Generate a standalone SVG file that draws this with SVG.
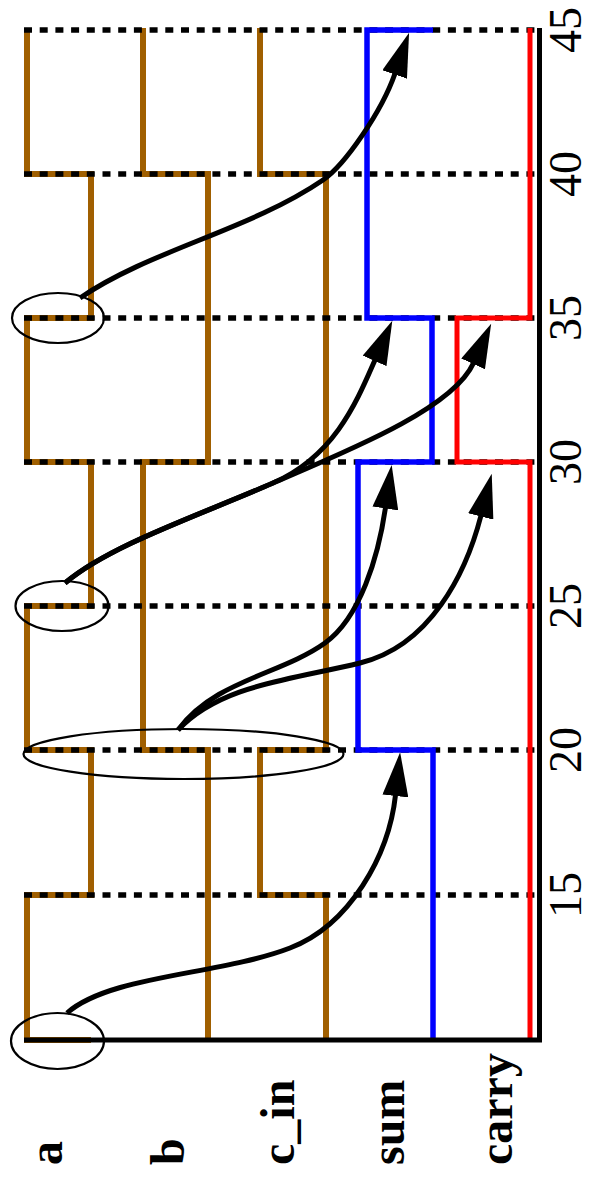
<svg xmlns="http://www.w3.org/2000/svg" width="589" height="1183" viewBox="0 0 589 1183">
<style>
.sig{fill:none;stroke-linejoin:miter;stroke-linecap:butt}
.in{stroke:#a05f00;stroke-width:6}
.sum{stroke:#0000ff;stroke-width:5.5}
.carry{stroke:#ff0000;stroke-width:5}
.grid{stroke:#000;stroke-width:5.5;stroke-dasharray:8 7.7;fill:none}
.axis{stroke:#000;stroke-width:5;fill:none}
.ell{fill:none;stroke:#000;stroke-width:2.2}
.arr{fill:none;stroke:#000;stroke-width:5;marker-end:url(#ah)}
.lbl{font-family:"Liberation Serif",serif;font-weight:bold;font-size:48px;fill:#000}
.num{font-family:"Liberation Serif",serif;font-size:46px;fill:#000;text-anchor:middle}
</style>
<defs>
<marker id="ah" markerUnits="userSpaceOnUse" markerWidth="44" markerHeight="26" refX="1" refY="13" orient="auto" viewBox="0 0 44 26">
<path d="M0,0 L44,13 L0,26 z" fill="#000"/>
</marker>
</defs>
<rect width="589" height="1183" fill="#fff"/>
<g id="sig-a"><path class="sig in" d="M91,1040 L27,1040 L27,895 L91,895 L91,750 L27,750 L27,606 L91,606 L91,462 L27,462 L27,318 L91,318 L91,174 L27,174 L27,28"/></g>
<g id="sig-b"><path class="sig in" d="M208,1040 L208,750 L143,750 L143,462 L208,462 L208,174 L143,174 L143,28"/></g>
<g id="sig-cin"><path class="sig in" d="M326,1040 L326,895 L260,895 L260,750 L326,750 L326,174 L260,174 L260,28"/></g>
<g id="grid">
<path class="grid" d="M24,30 H537 M24,174 H537 M24,318 H537 M24,462 H537 M24,606 H537 M24,750 H537 M24,895 H537"/>
</g>
<g id="sig-sum"><path class="sig sum" d="M433,1040 L433,750 L358,750 L358,462 L432,462 L432,318 L367,318 L367,30 L433,30"/></g>
<g id="sig-carry"><path class="sig carry" d="M530,1040 L530,462 L457,462 L457,318 L530,318 L530,28"/></g>
<g id="axis"><path class="axis" d="M539.5,28 L539.5,1042.5 M24,1040 L542,1040"/></g>
<g id="circles">
<ellipse class="ell" cx="57.5" cy="1041" rx="46.5" ry="28"/>
<ellipse class="ell" cx="62" cy="606" rx="46.5" ry="25"/>
<ellipse class="ell" cx="58" cy="318" rx="46" ry="25"/>
<ellipse class="ell" cx="183.5" cy="754" rx="160" ry="25"/>
</g>
<g id="connectors">
<path class="arr" d="M67,1013 C110,975 220,975 290,948 C350,925 389,855 395.5,795"/>
<path class="arr" d="M178,730 C215,680 280,675 325,643 C360,618 378.3,557 385.5,507.5"/>
<path class="arr" d="M178,730 C220,685 290,680 360,663 C430,646 466,573.6 481,515.5"/>
<path class="arr" d="M65,583 C110,545 200,515 273,483 C335,456 357,401 375,360"/>
<path class="arr" d="M65,583 C110,545 200,515 273,483 C350,450 453,408.5 473.5,363"/>
<path class="arr" d="M80,298 C150,250 250,230 323,180 C345,165 382,111 395,73.5"/>
</g>
<g id="time-labels">
<text class="num" transform="translate(581,30) rotate(-90)">45</text>
<text class="num" transform="translate(581,174) rotate(-90)">40</text>
<text class="num" transform="translate(581,318) rotate(-90)">35</text>
<text class="num" transform="translate(581,462) rotate(-90)">30</text>
<text class="num" transform="translate(581,606) rotate(-90)">25</text>
<text class="num" transform="translate(581,750) rotate(-90)">20</text>
<text class="num" transform="translate(581,895) rotate(-90)">15</text>
</g>
<g id="signal-labels">
<text class="lbl" transform="translate(62,1165) rotate(-90)">a</text>
<text class="lbl" transform="translate(184,1165) rotate(-90)">b</text>
<text class="lbl" transform="translate(294,1165) rotate(-90)">c_in</text>
<text class="lbl" transform="translate(404,1165) rotate(-90)">sum</text>
<text class="lbl" transform="translate(512,1165) rotate(-90)">carry</text>
</g>
</svg>
